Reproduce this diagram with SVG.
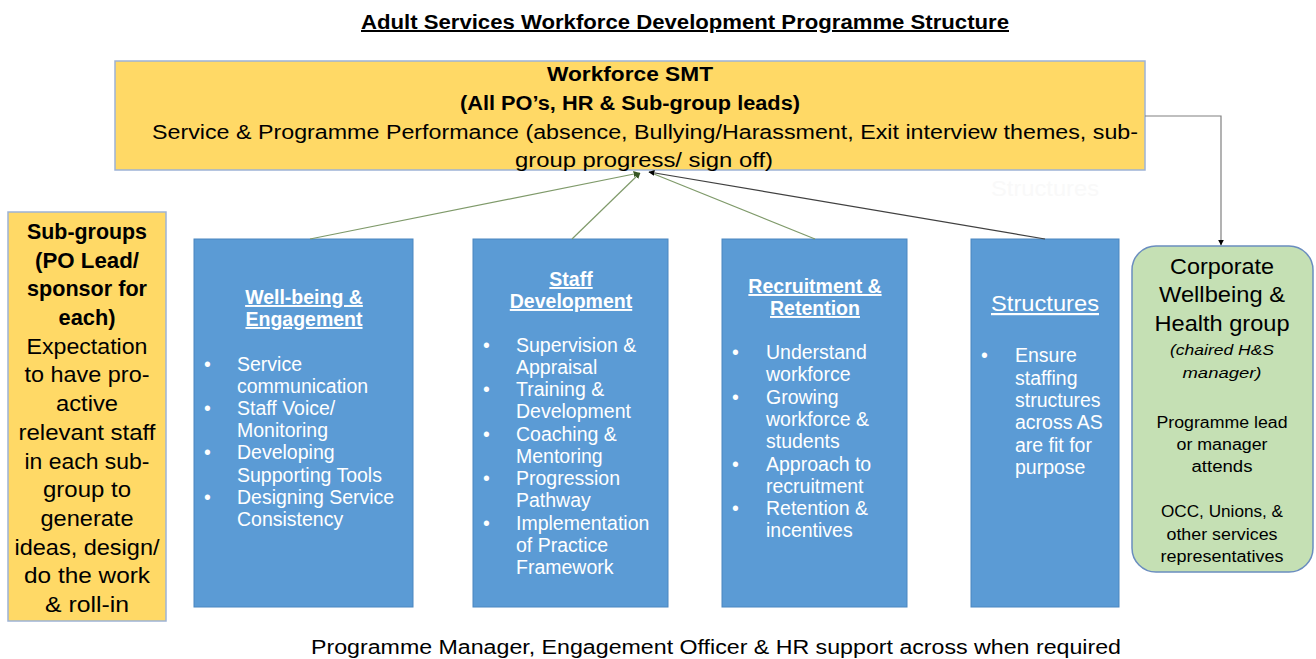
<svg xmlns="http://www.w3.org/2000/svg" width="1316" height="659" viewBox="0 0 1316 659">
<style>
.cal{font-family:"Liberation Sans",Arial,sans-serif;fill:#000}
.b{font-weight:bold}
.wt{font-family:"Liberation Sans",Arial,sans-serif;fill:#fff;font-size:19.5px}
.wh{font-family:"Liberation Sans",Arial,sans-serif;fill:#fff;font-size:19.5px;font-weight:bold;text-decoration:underline}
.yel{fill:#FFD966;stroke:#9DB3D6;stroke-width:1.5}
.blu{fill:#5B9BD5;stroke:#4A86C0;stroke-width:1}
.gl{stroke:#7F9A6A;stroke-width:1.2;fill:none}
</style>
<defs>
<marker id="ag" viewBox="0 0 10 10" refX="9" refY="5" markerWidth="5" markerHeight="5" orient="auto"><path d="M0,0L10,5L0,10z" fill="#375623"/></marker>
<marker id="ak" viewBox="0 0 10 10" refX="9" refY="5" markerWidth="5" markerHeight="5" orient="auto"><path d="M0,0L10,5L0,10z" fill="#000"/></marker>
</defs>
<rect width="1316" height="659" fill="#fff"/>
<text class="cal b" x="685" y="29" font-size="20" text-anchor="middle" text-decoration="underline" textLength="648" lengthAdjust="spacingAndGlyphs">Adult Services Workforce Development Programme Structure</text>

<g id="smt">
<rect class="yel" x="115" y="61" width="1030" height="109"/>
<text class="cal b" x="630" y="81" font-size="20" text-anchor="middle" textLength="166" lengthAdjust="spacingAndGlyphs">Workforce SMT</text>
<text class="cal b" x="630" y="110" font-size="20" text-anchor="middle" textLength="340" lengthAdjust="spacingAndGlyphs">(All PO’s, HR &amp; Sub-group leads)</text>
<text class="cal" x="645" y="139" font-size="20" text-anchor="middle" textLength="986" lengthAdjust="spacingAndGlyphs">Service &amp; Programme Performance (absence, Bullying/Harassment, Exit interview themes, sub-</text>
<text class="cal" x="644" y="167" font-size="20" text-anchor="middle" textLength="258" lengthAdjust="spacingAndGlyphs">group progress/ sign off)</text>
</g>
<text x="1045" y="196" font-family="Liberation Sans,Arial,sans-serif" font-size="22" fill="#f9f9f9" text-anchor="middle" textLength="108" lengthAdjust="spacingAndGlyphs">Structures</text>

<g id="subgroups">
<rect class="yel" x="8" y="212" width="158" height="409"/>
<g class="cal" font-size="22" text-anchor="middle">
<text class="b" x="87" y="239" textLength="120" lengthAdjust="spacingAndGlyphs">Sub-groups</text>
<text class="b" x="87" y="268" textLength="104" lengthAdjust="spacingAndGlyphs">(PO Lead/</text>
<text class="b" x="87" y="296" textLength="120" lengthAdjust="spacingAndGlyphs">sponsor for</text>
<text class="b" x="87" y="325" textLength="57" lengthAdjust="spacingAndGlyphs">each)</text>
<text x="87" y="354" textLength="121" lengthAdjust="spacingAndGlyphs">Expectation</text>
<text x="87" y="382" textLength="125" lengthAdjust="spacingAndGlyphs">to have pro-</text>
<text x="87" y="411" textLength="62" lengthAdjust="spacingAndGlyphs">active</text>
<text x="87" y="440" textLength="137" lengthAdjust="spacingAndGlyphs">relevant staff</text>
<text x="87" y="469" textLength="125" lengthAdjust="spacingAndGlyphs">in each sub-</text>
<text x="87" y="497" textLength="88" lengthAdjust="spacingAndGlyphs">group to</text>
<text x="87" y="526" textLength="93" lengthAdjust="spacingAndGlyphs">generate</text>
<text x="87" y="555" textLength="145" lengthAdjust="spacingAndGlyphs">ideas, design/</text>
<text x="87" y="583" textLength="126" lengthAdjust="spacingAndGlyphs">do the work</text>
<text x="87" y="612" textLength="84" lengthAdjust="spacingAndGlyphs">&amp; roll-in</text>
</g>
</g>

<g id="wellbeing">
<rect class="blu" x="194" y="239" width="219" height="368"/>
<text class="wh" x="304" y="304" text-anchor="middle">Well-being &amp;</text>
<text class="wh" x="304" y="326" text-anchor="middle">Engagement</text>
<g class="wt">
<text x="204" y="371">•</text><text x="237" y="371">Service</text>
<text x="237" y="393">communication</text>
<text x="204" y="415">•</text><text x="237" y="415">Staff Voice/</text>
<text x="237" y="437">Monitoring</text>
<text x="204" y="459">•</text><text x="237" y="459">Developing</text>
<text x="237" y="482">Supporting Tools</text>
<text x="204" y="504">•</text><text x="237" y="504">Designing Service</text>
<text x="237" y="526">Consistency</text>
</g>
</g>

<g id="staffdev">
<rect class="blu" x="473" y="239" width="195" height="368"/>
<text class="wh" x="571" y="286" text-anchor="middle">Staff</text>
<text class="wh" x="571" y="308" text-anchor="middle">Development</text>
<g class="wt">
<text x="483" y="352">•</text><text x="516" y="352">Supervision &amp;</text>
<text x="516" y="374">Appraisal</text>
<text x="483" y="396">•</text><text x="516" y="396">Training &amp;</text>
<text x="516" y="418">Development</text>
<text x="483" y="441">•</text><text x="516" y="441">Coaching &amp;</text>
<text x="516" y="463">Mentoring</text>
<text x="483" y="485">•</text><text x="516" y="485">Progression</text>
<text x="516" y="507">Pathway</text>
<text x="483" y="530">•</text><text x="516" y="530">Implementation</text>
<text x="516" y="552">of Practice</text>
<text x="516" y="574">Framework</text>
</g>
</g>

<g id="recruitment">
<rect class="blu" x="722" y="239" width="185" height="368"/>
<text class="wh" x="815" y="293" text-anchor="middle">Recruitment &amp;</text>
<text class="wh" x="815" y="315" text-anchor="middle">Retention</text>
<g class="wt">
<text x="732" y="359">•</text><text x="766" y="359">Understand</text>
<text x="766" y="381">workforce</text>
<text x="732" y="404">•</text><text x="766" y="404">Growing</text>
<text x="766" y="426">workforce &amp;</text>
<text x="766" y="448">students</text>
<text x="732" y="471">•</text><text x="766" y="471">Approach to</text>
<text x="766" y="493">recruitment</text>
<text x="732" y="515">•</text><text x="766" y="515">Retention &amp;</text>
<text x="766" y="537">incentives</text>
</g>
</g>

<g id="structures">
<rect class="blu" x="971" y="239" width="148" height="368"/>
<text x="1045" y="311" font-family="Liberation Sans,Arial,sans-serif" font-size="22" fill="#fff" text-anchor="middle" text-decoration="underline" textLength="108" lengthAdjust="spacingAndGlyphs">Structures</text>
<g class="wt">
<text x="981" y="362">•</text><text x="1015" y="362">Ensure</text>
<text x="1015" y="385">staffing</text>
<text x="1015" y="407">structures</text>
<text x="1015" y="429">across AS</text>
<text x="1015" y="452">are fit for</text>
<text x="1015" y="474">purpose</text>
</g>
</g>

<g id="corporate">
<rect x="1132" y="246" width="181" height="326" rx="24" ry="24" fill="#C5E0B4" stroke="#6A8DBF" stroke-width="1.5"/>
<g class="cal" text-anchor="middle">
<text x="1222" y="274" font-size="22" textLength="104" lengthAdjust="spacingAndGlyphs">Corporate</text>
<text x="1222" y="302" font-size="22" textLength="126" lengthAdjust="spacingAndGlyphs">Wellbeing &amp;</text>
<text x="1222" y="331" font-size="22" textLength="135" lengthAdjust="spacingAndGlyphs">Health group</text>
<text x="1222" y="355" font-size="15" font-style="italic" textLength="104" lengthAdjust="spacingAndGlyphs">(chaired H&amp;S</text>
<text x="1222" y="378" font-size="15" font-style="italic" textLength="79" lengthAdjust="spacingAndGlyphs">manager)</text>
<text x="1222" y="428" font-size="16" textLength="131" lengthAdjust="spacingAndGlyphs">Programme lead</text>
<text x="1222" y="450" font-size="16" textLength="91" lengthAdjust="spacingAndGlyphs">or manager</text>
<text x="1222" y="472" font-size="16" textLength="61" lengthAdjust="spacingAndGlyphs">attends</text>
<text x="1222" y="517" font-size="16" textLength="122" lengthAdjust="spacingAndGlyphs">OCC, Unions, &amp;</text>
<text x="1222" y="540" font-size="16" textLength="111" lengthAdjust="spacingAndGlyphs">other services</text>
<text x="1222" y="562" font-size="16" textLength="123" lengthAdjust="spacingAndGlyphs">representatives</text>
</g>
</g>

<g id="connectors">
<path d="M1145,116 H1221 V245" fill="none" stroke="#808080" stroke-width="1.2" marker-end="url(#ak)"/>
<path class="gl" d="M310,239 L639,173" marker-end="url(#ag)"/>
<path class="gl" d="M572,239 L640,173" marker-end="url(#ag)"/>
<path class="gl" d="M815,239 L649,172"/>
<path d="M1045,239 L649,172" fill="none" stroke="#404040" stroke-width="1.2" marker-end="url(#ak)"/>
</g>

<text class="cal" x="716" y="654" font-size="20" text-anchor="middle" textLength="810" lengthAdjust="spacingAndGlyphs">Programme Manager, Engagement Officer &amp; HR support across when required</text>
</svg>
